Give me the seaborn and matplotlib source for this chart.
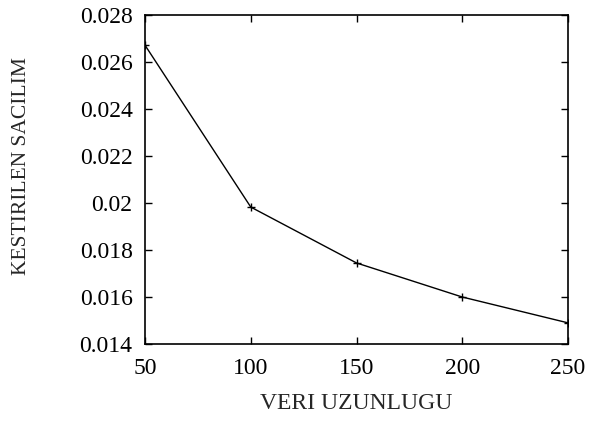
import matplotlib
matplotlib.use("Agg")
import matplotlib.pyplot as plt
import seaborn as sns
import pandas as pd

# Dados
veri_uzunlugu = [50, 100, 150, 200, 250]
sacilim = [0.02672, 0.01983, 0.01745, 0.01600, 0.01490]

df = pd.DataFrame({"x": veri_uzunlugu, "y": sacilim})

sns.set_style("ticks")
plt.rcParams["font.family"] = ["Liberation Serif", "DejaVu Serif"]

fig = plt.figure(figsize=(5.9, 4.21), dpi=100)
ax = fig.add_axes([0.2458, 0.1829, 0.9627 - 0.2458, 0.964 - 0.1829])

sns.lineplot(data=df, x="x", y="y", ax=ax, color="black", linewidth=1.0,
             marker="+", markersize=6, markeredgewidth=1.0,
             markeredgecolor="black")

ax.set_xlim(50, 250)
ax.set_ylim(0.014, 0.028)
ax.set_xticks([50, 100, 150, 200, 250])
ax.set_yticks([0.014, 0.016, 0.018, 0.02, 0.022, 0.024, 0.026, 0.028])
ax.set_yticklabels(["0.014", "0.016", "0.018", "0.02", "0.022", "0.024", "0.026", "0.028"])
ax.tick_params(direction="in", length=5, width=1, top=True, right=True,
               labelsize=17, colors="black")
ax.tick_params(axis="x", pad=10)
ax.tick_params(axis="y", pad=9)
for s in ax.spines.values():
    s.set_linewidth(1.2)
    s.set_color("black")

ax.set_xlabel("VERI UZUNLUGU", fontsize=17, labelpad=10)
ax.set_ylabel("KESTIRILEN SACILIM", fontsize=15.5)
ax.yaxis.set_label_coords(-0.27, 0.541)

fig.savefig("out.png", dpi=100)
print("Grafik feito")
